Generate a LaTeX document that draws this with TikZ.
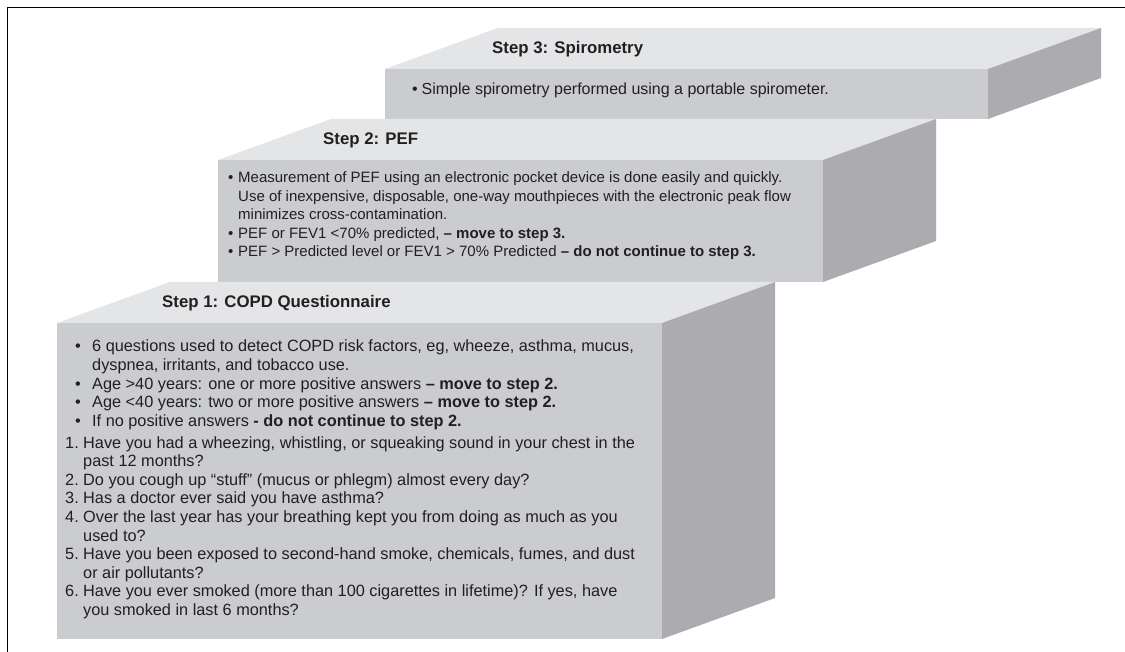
\documentclass[tikz,border=0pt]{standalone}
\usepackage{fontspec}
\setmainfont{Liberation Sans}
\definecolor{topc}{RGB}{227,229,231}
\definecolor{frontc}{RGB}{202,204,207}
\definecolor{sidec}{RGB}{172,171,176}
\definecolor{txt}{RGB}{35,31,32}
\newcommand{\lbl}[2]{\makebox[#1][l]{#2}}
\begin{document}
\begin{tikzpicture}[x=1pt,y=-1pt,
  topf/.style={fill=topc},
  frontf/.style={fill=frontc},
  sidef/.style={fill=sidec},
  head/.style={anchor=base west,inner sep=0pt,text=txt,font=\fontsize{16.8}{20}\selectfont\bfseries},
  txtA/.style={anchor=base west,inner sep=0pt,text=txt,font=\fontsize{16.3}{19}\selectfont},
  txtB/.style={anchor=base west,inner sep=0pt,text=txt,font=\fontsize{15}{18}\selectfont},
  txtC/.style={anchor=base west,inner sep=0pt,text=txt,font=\fontsize{16}{19}\selectfont}]
\useasboundingbox (0,0) rectangle (1125,652);
\fill[white] (0,0) rectangle (1125,652);
\draw[line width=0.9pt,black] (7,652) -- (7,7.5) -- (1125,7.5);

% Step 3 block
\fill[topf] (385,69) -- (498,28) -- (1101,28) -- (988,69) -- cycle;
\fill[frontf] (385,69) rectangle (988,119);
\fill[sidef] (988,69) -- (1101,28) -- (1101,78) -- (988,119) -- cycle;

% Step 2 block
\fill[topf] (218,160) -- (331,119) -- (936,119) -- (823,160) -- cycle;
\fill[frontf] (218,160) rectangle (823,282);
\fill[sidef] (823,160) -- (936,119) -- (936,241) -- (823,282) -- cycle;

% Step 1 block
\fill[topf] (57,323) -- (170,282) -- (775,282) -- (662,323) -- cycle;
\fill[frontf] (57,323) rectangle (662,639);
\fill[sidef] (662,323) -- (775,282) -- (775,598) -- (662,639) -- cycle;

% Step 3 text
\node[head] (h3) at (492,54) {Step 3: Spirometry};
\node[txtC] (s3a) at (412,95) {\lbl{9.5pt}{•}Simple spirometry performed using a portable spirometer.};

% Step 2 text
\node[head] (h2) at (323,145) {Step 2: PEF};
\node[txtB] (s2a) at (228,182.7) {\lbl{10pt}{•}Measurement of PEF using an electronic pocket device is done easily and quickly.};
\node[txtB] (s2b) at (238,201.2) {Use of inexpensive, disposable, one-way mouthpieces with the electronic peak flow};
\node[txtB] (s2c) at (238,219.7) {minimizes cross-contamination.};
\node[txtB] (s2d) at (228,238.2) {\lbl{10pt}{•}PEF or FEV1 <70\% predicted, \textbf{– move to step 3.}};
\node[txtB] (s2e) at (228,256.7) {\lbl{10pt}{•}PEF > Predicted level or FEV1 > 70\% Predicted \textbf{– do not continue to step 3.}};

% Step 1 text
\node[head] (h1) at (162,308) {Step 1: COPD Questionnaire};
\node[txtA] (s1a) at (75,352) {\lbl{17pt}{•}6 questions used to detect COPD risk factors, eg, wheeze, asthma, mucus,};
\node[txtA] (s1b) at (92,370.6) {dyspnea, irritants, and tobacco use.};
\node[txtA] (s1c) at (75,389.2) {\lbl{17pt}{•}Age >40 years: one or more positive answers \textbf{– move to step 2.}};
\node[txtA] (s1d) at (75,407.8) {\lbl{17pt}{•}Age <40 years: two or more positive answers \textbf{– move to step 2.}};
\node[txtA] (s1e) at (75,426.4) {\lbl{17pt}{•}If no positive answers \textbf{- do not continue to step 2.}};
\node[txtA] (q1a) at (65,448) {\lbl{18pt}{1.}Have you had a wheezing, whistling, or squeaking sound in your chest in the};
\node[txtA] (q1b) at (83,466.6) {past 12 months?};
\node[txtA] (q2) at (65,485.2) {\lbl{18pt}{2.}Do you cough up “stuff” (mucus or phlegm) almost every day?};
\node[txtA] (q3) at (65,503.8) {\lbl{18pt}{3.}Has a doctor ever said you have asthma?};
\node[txtA] (q4a) at (65,522.4) {\lbl{18pt}{4.}Over the last year has your breathing kept you from doing as much as you};
\node[txtA] (q4b) at (83,541) {used to?};
\node[txtA] (q5a) at (65,559.6) {\lbl{18pt}{5.}Have you been exposed to second-hand smoke, chemicals, fumes, and dust};
\node[txtA] (q5b) at (83,578.2) {or air pollutants?};
\node[txtA] (q6a) at (65,596.8) {\lbl{18pt}{6.}Have you ever smoked (more than 100 cigarettes in lifetime)? If yes, have};
\node[txtA] (q6b) at (83,615.4) {you smoked in last 6 months?};
\end{tikzpicture}
\end{document}
